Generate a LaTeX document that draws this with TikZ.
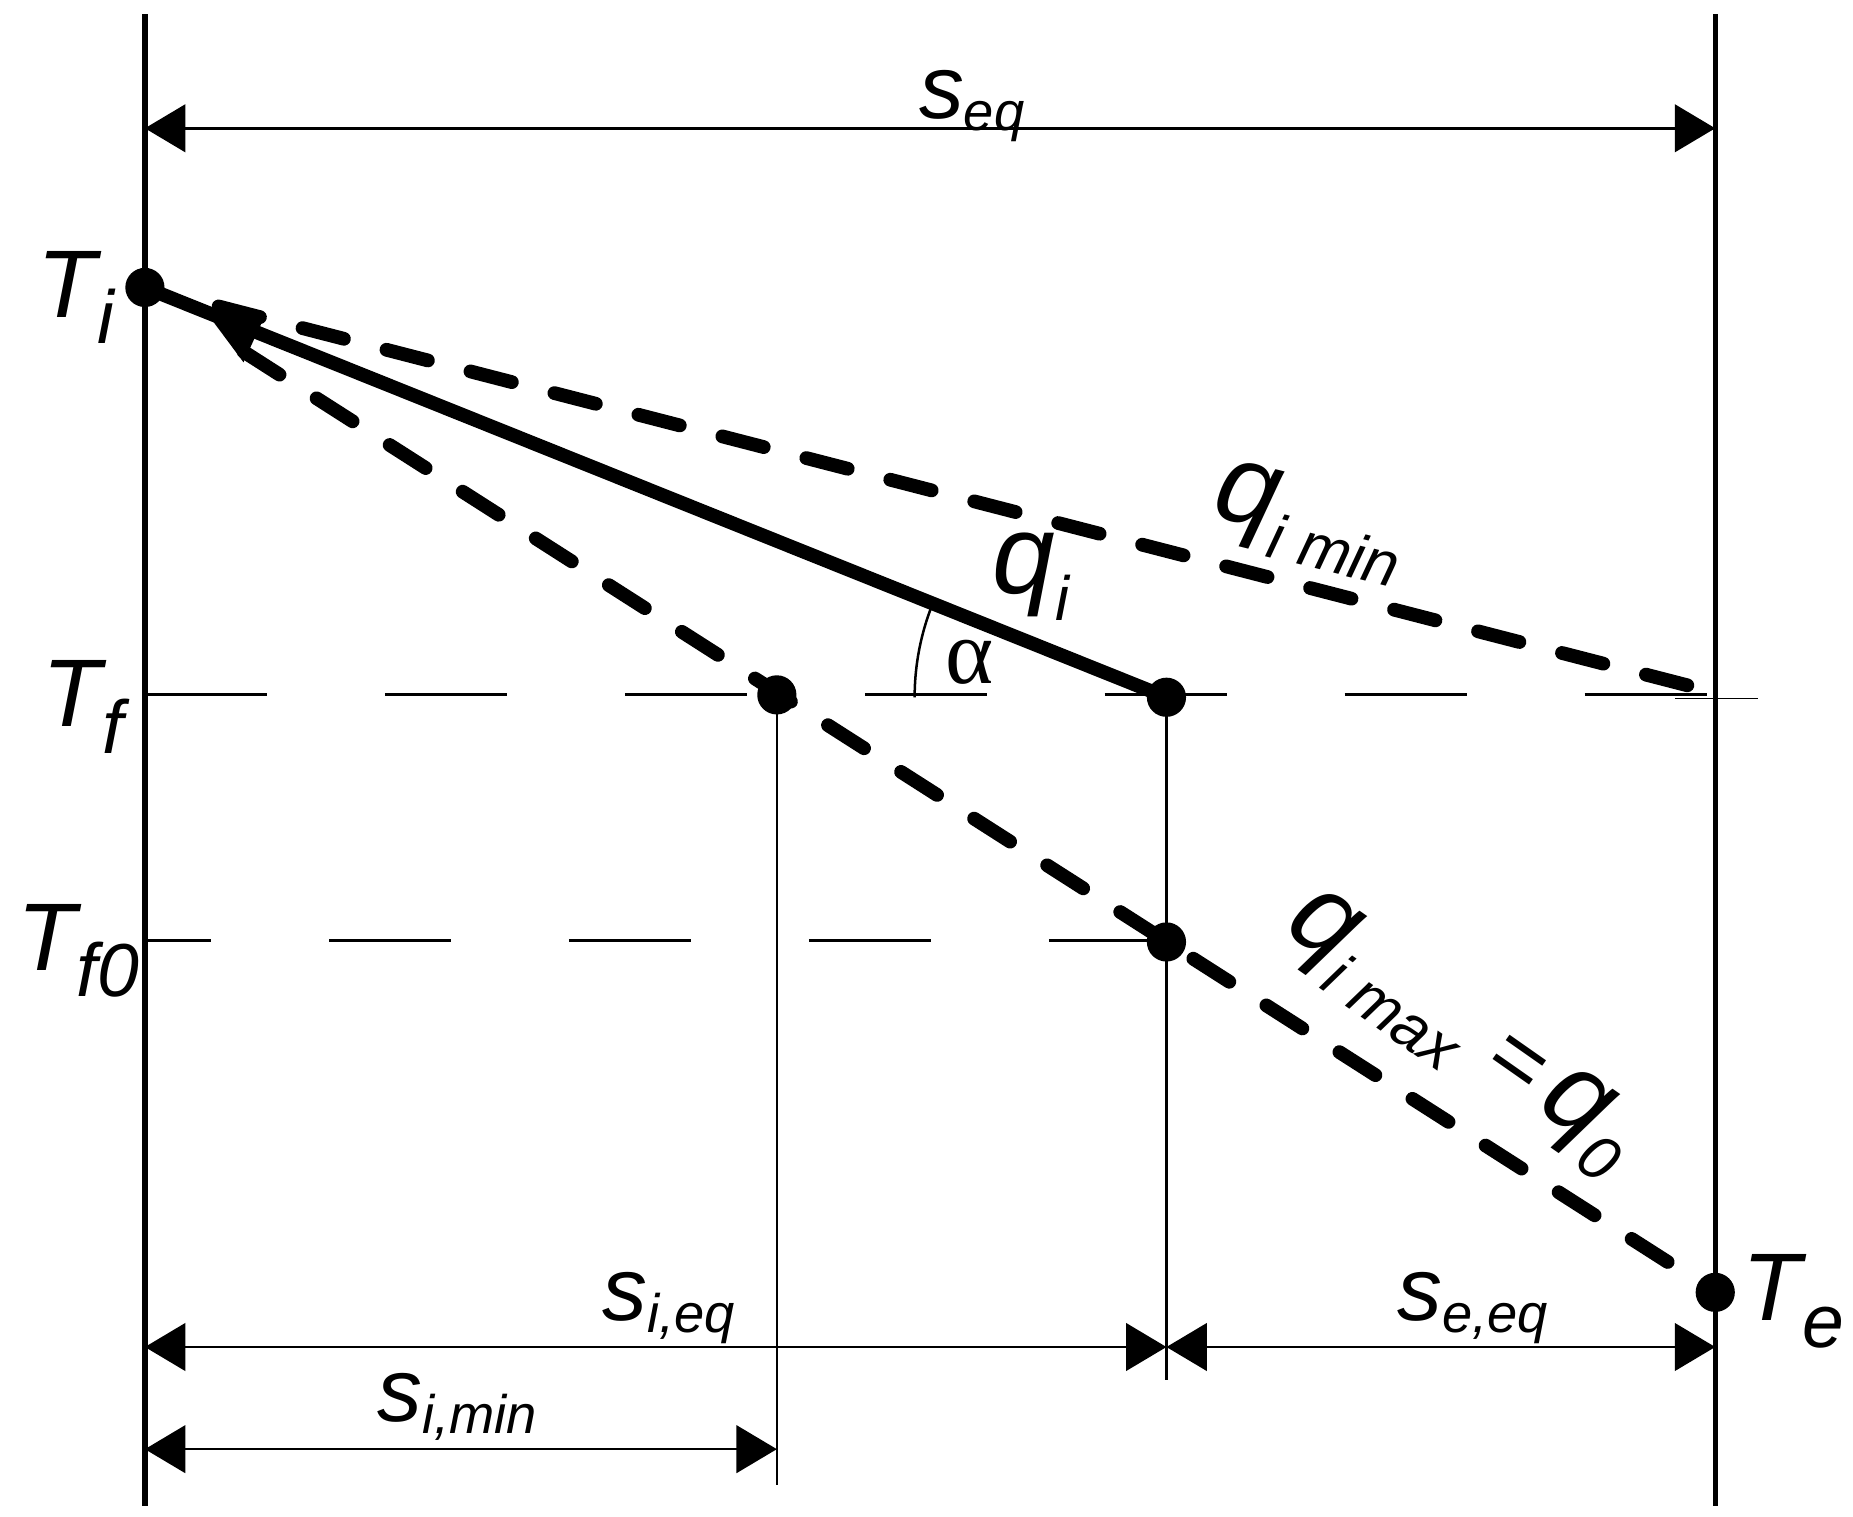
\documentclass[tikz,border=0pt]{standalone}
\usepackage{fontspec}
\setmainfont{Liberation Sans}
\newfontfamily\serifgreek{Liberation Serif}
\usetikzlibrary{arrows.meta}
\newcommand{\labT}[1]{{\fontsize{23}{23}\selectfont\itshape T\kern0.01em\raisebox{-0.22cm}{\fontsize{18}{18}\selectfont #1}}}
\newcommand{\labS}[1]{{\fontsize{21.5}{21.5}\selectfont\itshape s\raisebox{-0.10cm}{\fontsize{13}{13}\selectfont #1}}}
\newcommand{\labQ}[1]{{\fontsize{27}{27}\selectfont\itshape q\raisebox{-0.22cm}{\fontsize{15}{15}\selectfont #1}}}
\tikzset{
  frameline/.style={line width=1.3pt},
  dimline/.style={line width=0.6pt,{Triangle[length=0.34cm,width=0.40cm]}-{Triangle[length=0.34cm,width=0.40cm]}},
  guideline/.style={line width=0.6pt},
  heavyline/.style={line width=3.3pt},
  heavydash/.style={line width=3.3pt,line cap=round,dash pattern=on 0.36cm off 0.37cm},
  refdash/.style={line width=0.7pt,dash pattern=on 1.03cm off 0.99cm},
  dotnode/.style={circle,fill=black,inner sep=0pt,minimum size=0.33cm},
  lab/.style={inner sep=0pt,anchor=base},
}
\begin{document}
\begin{tikzpicture}
\useasboundingbox (0,0) rectangle (15.6,-12.771);
% frame coordinates
\coordinate (Ltop) at (1.22,-0.12);
\coordinate (Lbot) at (1.22,-12.68);
\coordinate (Rtop) at (14.44,-0.12);
\coordinate (Rbot) at (14.44,-12.68);
\draw[frameline] (Ltop) -- (Lbot);
\draw[frameline] (Rtop) -- (Rbot);
% top dimension
\coordinate (tdL) at (1.22,-1.08);
\coordinate (tdR) at (14.44,-1.08);
\draw[dimline] (tdL) -- (tdR);
\node[lab] (seq) at (8.18,-1.00) {\labS{eq}};
% horizontal reference lines
\coordinate (TfL) at (1.22,-5.85);
\coordinate (TfR) at (14.45,-5.85);
\draw[refdash] (TfL) -- (TfR);
\coordinate (TfxA) at (14.10,-5.88);
\coordinate (TfxB) at (14.80,-5.88);
\draw[line width=0.4pt] (TfxA) -- (TfxB);
\coordinate (TfoL) at (1.22,-7.92);
\coordinate (TfoR) at (9.75,-7.92);
\draw[refdash,dash phase=0.47cm] (TfoL) -- (TfoR);
% points
\node[dotnode] (Ti) at (1.22,-2.42) {};
\node[dotnode] (P) at (9.82,-5.87) {};
\node[dotnode] (A) at (6.54,-5.85) {};
\node[dotnode] (B) at (9.82,-7.93) {};
\node[dotnode] (Te) at (14.44,-10.88) {};
\coordinate (Umin) at (14.44,-5.83);
% vertical guide lines
\coordinate (Abot) at (6.54,-12.50);
\coordinate (Pbot) at (9.82,-11.62);
\draw[guideline] (A.center) -- (Abot);
\draw[guideline] (P.center) -- (Pbot);
% solid q_i line
\draw[heavyline] (Ti.center) -- (P.center);
% dashed lines
\coordinate (Ustart) at (1.84,-2.58);
\coordinate (Lstart) at (2.05,-2.96);
\draw[heavydash] (Ustart) -- (Umin);
\draw[heavydash] (Lstart) -- (Te.center);
% small arrowhead near Ti
\coordinate (ahT) at (1.70,-2.58);
\coordinate (ahA) at (2.22,-2.68);
\coordinate (ahB) at (2.05,-3.05);
\fill[line join=round] (ahT) -- (ahA) -- (ahB) -- cycle;
% angle alpha
\draw[guideline] ([shift={(180:2.12)}]P.center) arc[start angle=180,end angle=158.1,radius=2.12];
\node[lab] (alpha) at (8.16,-5.75) {\fontsize{22}{22}\selectfont\serifgreek α};
% bottom dimensions
\coordinate (b1L) at (1.22,-11.34);
\coordinate (b1M) at (9.82,-11.34);
\coordinate (b1R) at (14.44,-11.34);
\draw[dimline] (b1L) -- (b1M);
\draw[dimline] (b1M) -- (b1R);
\coordinate (b2L) at (1.22,-12.20);
\coordinate (b2R) at (6.54,-12.20);
\draw[dimline] (b2L) -- (b2R);
\node[lab] (sieq) at (5.63,-11.12) {\labS{i,eq}};
\node[lab] (seeq) at (12.40,-11.12) {\labS{e,eq}};
\node[lab] (simin) at (3.85,-11.97) {\labS{i,min}};
% T labels
\node[lab] (lTi) at (0.64,-2.67) {\labT{i}};
\node[lab] (lTf) at (0.70,-6.12) {\labT{f}};
\node[lab] (lTf0) at (0.66,-8.17) {\labT{f0}};
\node[lab] (lTe) at (15.10,-11.12) {\labT{e}};
% q labels
\node[lab] (lqi) at (8.68,-5.00) {\labQ{i}};
\node[inner sep=0pt,rotate=-14] (lqmin) at (11.02,-4.40) {\labQ{i min}};
\node[inner sep=0pt,rotate=-35] (lqmax) at (12.28,-8.70) {\labQ{i max}\hspace{0.25cm}{\fontsize{22}{22}\selectfont =}\hspace{0.12cm}\labQ{0}};
\end{tikzpicture}
\end{document}
